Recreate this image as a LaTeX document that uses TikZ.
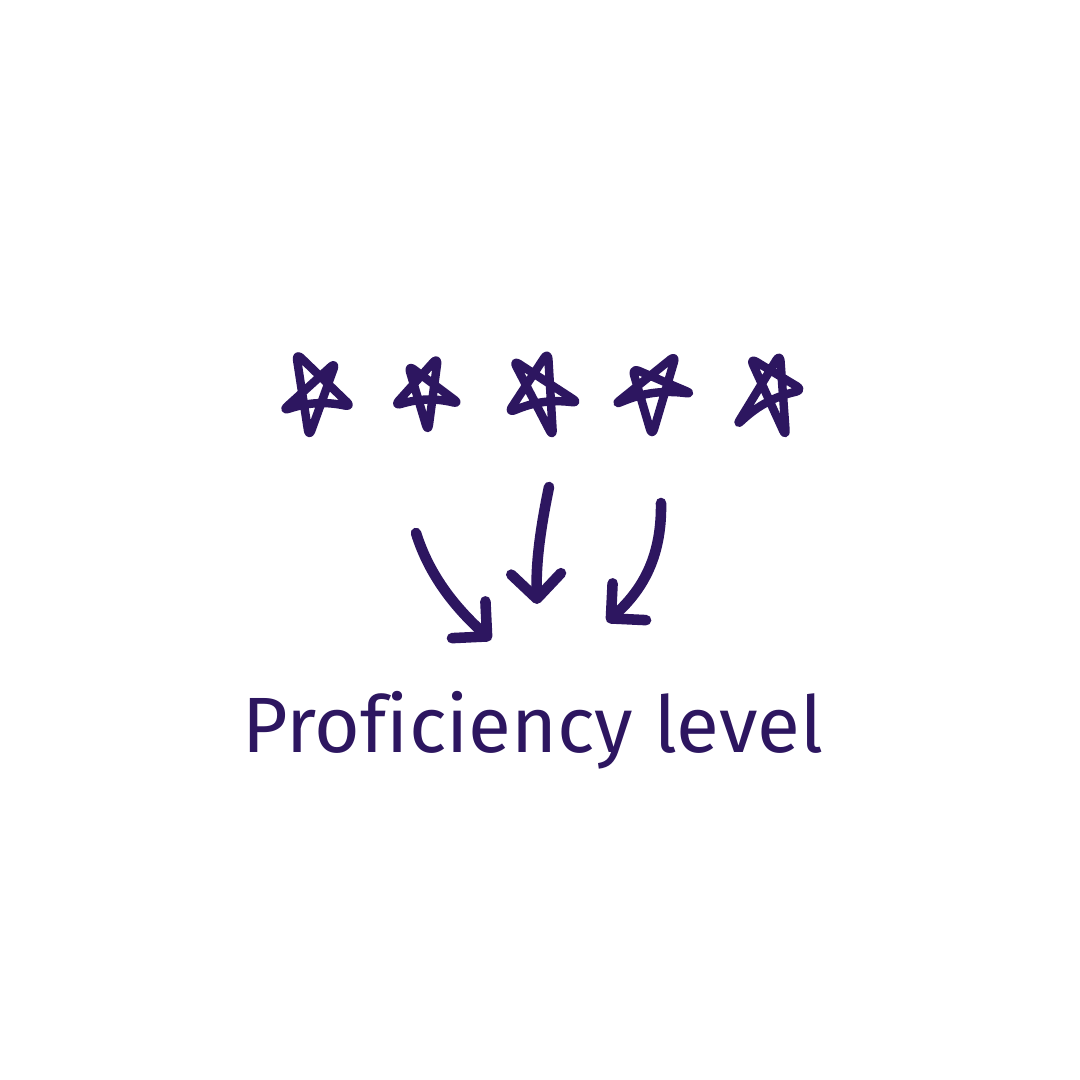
\documentclass[tikz,border=0pt]{standalone}
\usepackage{fontspec}
\setmainfont[Ligatures=NoCommon]{Fira Sans}
\definecolor{ink}{RGB}{45,22,96}
\usetikzlibrary{arrows.meta, positioning}

\begin{document}
\begin{tikzpicture}[x=0.01cm, y=-0.01cm,
  starline/.style={draw=ink, line width=2.4pt, line cap=round, line join=round, rounded corners=2pt},
  arrline/.style={draw=ink, line width=3pt, line cap=round, -{Straight Barb[angle=90:10pt, round]}},
  lbl/.style={text=ink, font=\fontsize{22.3}{27}\selectfont, anchor=base, inner sep=0pt}
]
  \useasboundingbox[fill=white] (0,0) rectangle (1080,1080);

  % five scribbled stars
  \foreach \ax/\ay/\bx/\by/\cx/\cy/\dx/\dy/\ex/\ey in {
    296/353/336/362/352/407/309/437/282/411,
    408/365/438/357/460/404/428/432/394/406,
    513/360/548/352/579/403/553/437/508/413,
    632/368/676/355/693/394/652/436/614/405,
    750/358/780/354/803/390/786/437/736/426}
    \draw[starline] (\dx,\dy) -- (\ax,\ay) -- (\cx,\cy) to[bend right=15] (\ex,\ey) -- (\bx,\by) -- cycle;

  \node[lbl] (level) at (533,752) {Proficiency level};

  % arrows
  \coordinate (s1) at (416,533);
  \coordinate (t1) at (491,640);
  \coordinate (s2) at (549,487);
  \coordinate (t2) at (537,604);
  \coordinate (s3) at (661,503);
  \coordinate (t3) at (607,622);
  \draw[arrline] (s1) .. controls (430,578) and (458,610) .. (t1);
  \draw[arrline] (s2) .. controls (538,540) and (536,570) .. (t2);
  \draw[arrline] (s3) .. controls (662,560) and (640,592) .. (t3);
\end{tikzpicture}
\end{document}
